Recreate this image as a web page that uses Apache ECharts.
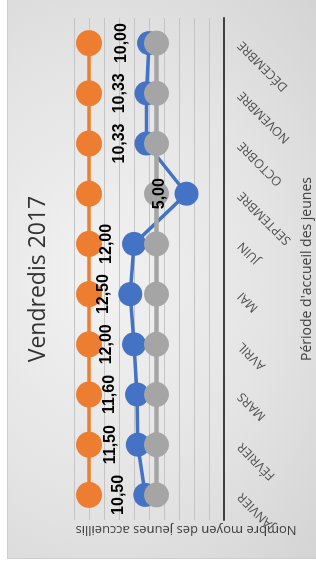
<!DOCTYPE html>
<html>
<head>
<meta charset="utf-8">
<script src="https://cdn.jsdelivr.net/npm/echarts@6/dist/echarts.min.js"></script>
<style>
  html, body { margin: 0; padding: 0; background: #fff; overflow: hidden; }
  /* the picture is the chart turned a quarter turn to the left */
  .turned {
    position: absolute; left: 0; top: 0;
    width: 566px; height: 316px;
    transform-origin: 0 0;
    transform: translate(0, 566px) rotate(-90deg);
  }
  .chartBox {
    position: absolute; left: 7px; top: 7px;
    width: 559px; height: 309px;
    background: radial-gradient(ellipse at 50% 30%, #f2f2f2 0%, #e4e4e4 55%, #d4d4d4 100%);
    border-left: 1px solid #cdcdcd; border-top: 1px solid #cdcdcd;
    box-sizing: border-box;
  }
</style>
</head>
<body>
<div class="turned">
  <div id="chart" class="chartBox"></div>
</div>
<script>
const months = ['JANVIER', 'FÉVRIER', 'MARS', 'AVRIL', 'MAI', 'JUIN', 'SEPTEMBRE', 'OCTOBRE', 'NOVEMBRE', 'DÉCEMBRE']
const moyenneJeunes = [10.5, 11.5, 11.6, 12, 12.5, 12, 5, 10.33, 10.33, 10]
const capaciteMax = [18, 18, 18, 18, 18, 18, 18, 18, 18, 18]
const seuilMin = [9, 9, 9, 9, 9, 9, 9, 9, 9, 9]

const valueLabel = {
  show: true,
  position: 'top',
  distance: 7,
  fontFamily: 'Liberation Sans',
  fontSize: 16,
  fontWeight: 'bold',
  color: '#000',
  formatter: p => p.value.toFixed(2).replace('.', ',')
}

const myChart = echarts.init(document.getElementById('chart'))
myChart.setOption({
  backgroundColor: 'transparent',
  animation: false,
  title: {
    text: 'Vendredis 2017',
    left: 'center',
    top: 14,
    textStyle: {
      fontFamily: 'Open Sans',
      fontSize: 23,
      fontWeight: 'normal',
      color: '#333'
    }
  },
  grid: {
    left: 38,
    right: 18,
    top: 66,
    bottom: 92
  },
  xAxis: {
    type: 'category',
    data: months,
    boundaryGap: true,
    name: 'Période d\'accueil des jeunes',
    nameLocation: 'middle',
    nameGap: 76,
    nameTextStyle: {
      fontFamily: 'Open Sans',
      fontSize: 14,
      color: '#404040'
    },
    axisLine: { lineStyle: { color: '#404040', width: 2 } },
    axisTick: { show: false },
    axisLabel: {
      rotate: 45,
      margin: 16,
      interval: 0,
      fontFamily: 'Open Sans',
      fontSize: 12.5,
      color: '#505050'
    }
  },
  yAxis: {
    type: 'value',
    min: 0,
    max: 20,
    interval: 2,
    name: 'Nombre moyen des jeunes accueillis',
    nameLocation: 'middle',
    nameRotate: 90,
    nameGap: 3,
    nameTextStyle: {
      fontFamily: 'Open Sans',
      fontSize: 13,
      color: '#404040',
      padding: [0, 74, 0, 0]
    },
    axisLine: { show: false },
    axisTick: { show: false },
    axisLabel: { show: false },
    splitLine: { lineStyle: { color: '#c4c4c4', width: 1 } }
  },
  series: [
    {
      name: 'Moyenne',
      type: 'line',
      data: moyenneJeunes,
      symbol: 'circle',
      symbolSize: 24,
      itemStyle: { color: '#4472C4' },
      lineStyle: { color: '#4472C4', width: 3.5 },
      z: 2
    },
    {
      name: 'Maximum',
      type: 'line',
      data: capaciteMax,
      symbol: 'circle',
      symbolSize: 26,
      itemStyle: { color: '#ED7D31' },
      lineStyle: { color: '#ED7D31', width: 3.5 },
      z: 2
    },
    {
      name: 'Minimum',
      type: 'line',
      data: seuilMin,
      symbol: 'circle',
      symbolSize: 25,
      itemStyle: { color: '#A5A5A5' },
      lineStyle: { color: '#A5A5A5', width: 4.5 },
      z: 3
    },
    {
      // labels of the blue series, kept above the grey markers
      name: 'Moyenne',
      type: 'line',
      data: moyenneJeunes,
      symbol: 'circle',
      symbolSize: 24,
      showSymbol: true,
      itemStyle: { color: 'rgba(0,0,0,0)', borderWidth: 0 },
      lineStyle: { color: 'rgba(0,0,0,0)', width: 0 },
      label: valueLabel,
      silent: true,
      z: 5
    }
  ]
})
</script>
</body>
</html>
